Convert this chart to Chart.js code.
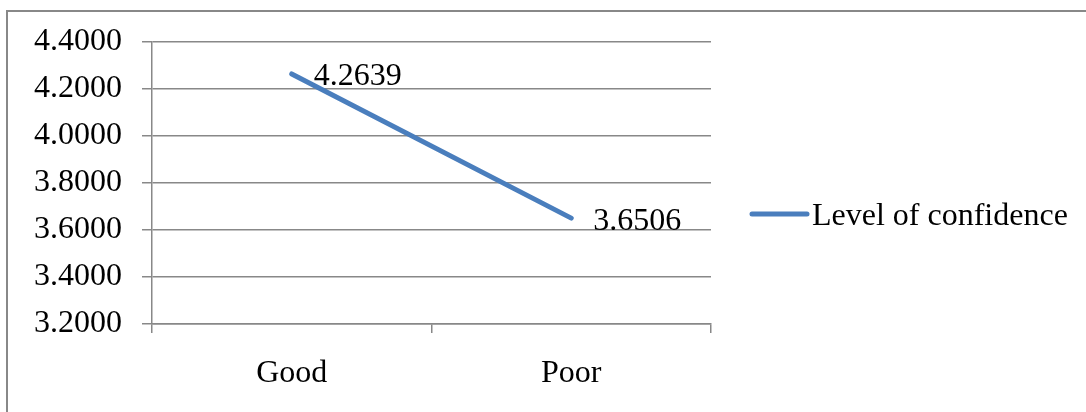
<!DOCTYPE html>
<html>
<head>
<meta charset="utf-8">
<script src="https://cdn.jsdelivr.net/npm/chart.js@4"></script>
<style>
  html, body { margin: 0; padding: 0; background: #fff; overflow: hidden; }
  #wrap { position: relative; width: 1086px; height: 412px; }
</style>
</head>
<body>
<div id="wrap"><canvas id="grafico"></canvas></div>
<script>
const categorias = ["Good", "Poor"];
const nivelConfianca = [4.2639, 3.6506];
const nomeSerie = "Level of confidence";
const eixoMin = 3.2;
const eixoMax = 4.4;
const passoEixo = 0.2;

const FONTE = "'Liberation Serif', 'Times New Roman', serif";
const TAM_FONTE = 32;
const COR_LINHA = "#4A7EBD";
const COR_GRADE = "#888888";

// moldura externa (so topo e esquerda aparecem na janela)
const pluginMoldura = {
  id: "moldura",
  beforeDraw(chart) {
    const ctx = chart.ctx;
    ctx.save();
    ctx.fillStyle = "#fff";
    ctx.fillRect(0, 0, chart.width, chart.height);
    ctx.strokeStyle = COR_GRADE;
    ctx.lineWidth = 2;
    ctx.strokeRect(7, 11, chart.width + 20, chart.height + 20);
    ctx.restore();
  },
};

// rotulos de valor ao lado de cada ponto
const pluginRotulos = {
  id: "rotulos",
  afterDatasetsDraw(chart) {
    const ctx = chart.ctx;
    const meta = chart.getDatasetMeta(0);
    ctx.save();
    ctx.font = `${TAM_FONTE}px ${FONTE}`;
    ctx.fillStyle = "#000";
    ctx.textAlign = "left";
    ctx.textBaseline = "middle";
    meta.data.forEach((ponto, i) => {
      const valor = chart.data.datasets[0].data[i];
      ctx.fillText(valor.toFixed(4), ponto.x + 22, ponto.y + 3);
    });
    ctx.restore();
  },
};

// legenda desenhada a direita da area do grafico
const pluginLegenda = {
  id: "legendaDireita",
  afterDraw(chart) {
    const ctx = chart.ctx;
    const area = chart.chartArea;
    const x0 = area.right + 41;
    const y0 = 214;
    ctx.save();
    ctx.strokeStyle = COR_LINHA;
    ctx.lineWidth = 5;
    ctx.lineCap = "round";
    ctx.beginPath();
    ctx.moveTo(x0, y0);
    ctx.lineTo(x0 + 55, y0);
    ctx.stroke();
    ctx.font = `${TAM_FONTE}px ${FONTE}`;
    ctx.fillStyle = "#000";
    ctx.textAlign = "left";
    ctx.textBaseline = "middle";
    ctx.fillText(chart.data.datasets[0].label, x0 + 60, y0 + 3);
    ctx.restore();
  },
};

const ctx = document.getElementById("grafico").getContext("2d");
new Chart(ctx, {
  type: "line",
  data: {
    labels: categorias,
    datasets: [
      {
        label: nomeSerie,
        data: nivelConfianca,
        borderColor: COR_LINHA,
        backgroundColor: COR_LINHA,
        borderWidth: 5,
        borderCapStyle: "round",
        pointRadius: 0,
        tension: 0,
      },
    ],
  },
  options: {
    responsive: true,
    maintainAspectRatio: false,
    animation: false,
    layout: { padding: { top: 42, right: 375, bottom: 0, left: 0 } },
    plugins: {
      legend: { display: false },
      tooltip: { enabled: false },
    },
    scales: {
      x: {
        offset: true,
        afterFit: (escala) => { escala.height = 88; },
        grid: {
          offset: true,
          drawOnChartArea: false,
          drawTicks: true,
          tickLength: 9,
          color: COR_GRADE,
          lineWidth: 1.5,
        },
        border: { display: true, color: COR_GRADE, width: 1.5 },
        ticks: {
          color: "#000",
          padding: 21,
          font: { family: FONTE, size: TAM_FONTE },
        },
      },
      y: {
        min: eixoMin,
        max: eixoMax,
        afterFit: (escala) => { escala.width = 152; },
        grid: {
          drawTicks: true,
          tickLength: 10,
          color: COR_GRADE,
          lineWidth: 1.5,
        },
        border: { display: true, color: COR_GRADE, width: 1.5 },
        ticks: {
          stepSize: passoEixo,
          color: "#000",
          padding: 20,
          font: { family: FONTE, size: TAM_FONTE },
          callback: (valor) => Number(valor).toFixed(4),
        },
      },
    },
  },
  plugins: [pluginMoldura, pluginRotulos, pluginLegenda],
});
</script>
</body>
</html>
